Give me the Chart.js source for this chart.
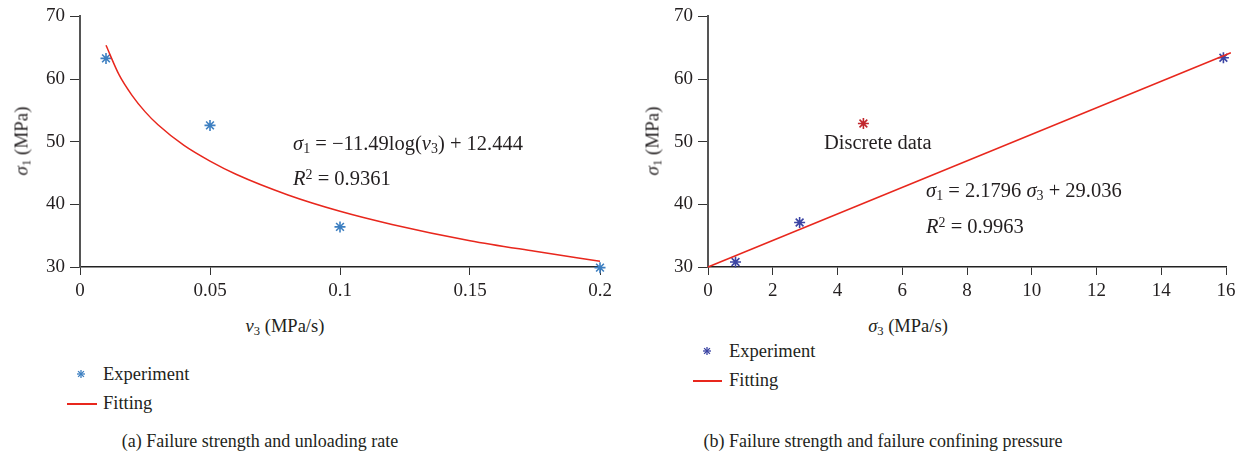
<!DOCTYPE html>
<html>
<head>
<meta charset="utf-8">
<script src="https://cdn.jsdelivr.net/npm/chart.js@4/dist/chart.umd.min.js"></script>
<style>
  body { margin: 0; background: #fff; }
  #wrap { position: relative; width: 1248px; height: 458px; font-family: 'Liberation Serif', 'DejaVu Serif', serif; color: #231f20; }
  #wrap canvas { position: absolute; top: 0; }
  .t { position: absolute; white-space: nowrap; font-size: 18px; line-height: 1; }
  .c { transform: translate(-50%, -50%); }
  .l { transform: translateY(-50%); }
  .rot { transform: translate(-50%, -50%) rotate(-90deg); font-size: 19px; }
  i { font-style: italic; }
  sub { font-size: 0.68em; vertical-align: -0.25em; line-height: 0; }
  sup { font-size: 0.68em; vertical-align: 0.4em; line-height: 0; }
  .cap { font-size: 18px; }
  .ann { font-size: 20.5px; }
  .leg { font-size: 18.5px; }
</style>
</head>
<body>
<div id="wrap">
  <div style="position:absolute;left:0;top:0;width:620px;height:300px"><canvas id="rateChart"></canvas></div>
  <div style="position:absolute;left:620px;top:0;width:628px;height:300px"><canvas id="pressureChart"></canvas></div>

  <!-- left panel text -->
  <div class="t rot" style="left:21px;top:141px"><i>σ</i><sub>1</sub> (MPa)</div>
  <div class="t c" style="left:285px;top:326px;font-size:18.5px"><i>ν</i><sub>3</sub> (MPa/s)</div>
  <div class="t l ann" style="left:293px;top:143px"><i>σ</i><sub>1</sub> = −11.49log(<i>ν</i><sub>3</sub>) + 12.444</div>
  <div class="t l ann" style="left:293px;top:178px"><i>R</i><sup>2</sup> = 0.9361</div>
  <svg style="position:absolute;left:76px;top:369px" width="10" height="10" viewBox="-5 -5 10 10">
    <g stroke="#3d7fc1" stroke-width="1.3"><line x1="-4" y1="0" x2="4" y2="0"/><line x1="0" y1="-4" x2="0" y2="4"/><line x1="-2.9" y1="-2.9" x2="2.9" y2="2.9"/><line x1="-2.9" y1="2.9" x2="2.9" y2="-2.9"/></g>
  </svg>
  <div class="t l leg" style="left:103px;top:374px">Experiment</div>
  <div style="position:absolute;left:67px;top:403px;width:30px;height:1.5px;background:#e8271d"></div>
  <div class="t l leg" style="left:103px;top:403px">Fitting</div>
  <div class="t c cap" style="left:260px;top:441px">(a) Failure strength and unloading rate</div>

  <!-- right panel text -->
  <div class="t rot" style="left:652px;top:141px"><i>σ</i><sub>1</sub> (MPa)</div>
  <div class="t c" style="left:908px;top:326px;font-size:18.5px"><i>σ</i><sub>3</sub> (MPa/s)</div>
  <div class="t l ann" style="left:824px;top:142px">Discrete data</div>
  <div class="t l ann" style="left:926px;top:190px"><i>σ</i><sub>1</sub> = 2.1796 <i>σ</i><sub>3</sub> + 29.036</div>
  <div class="t l ann" style="left:926px;top:226px"><i>R</i><sup>2</sup> = 0.9963</div>
  <svg style="position:absolute;left:702px;top:346px" width="10" height="10" viewBox="-5 -5 10 10">
    <g stroke="#3b44a3" stroke-width="1.3"><line x1="-4" y1="0" x2="4" y2="0"/><line x1="0" y1="-4" x2="0" y2="4"/><line x1="-2.9" y1="-2.9" x2="2.9" y2="2.9"/><line x1="-2.9" y1="2.9" x2="2.9" y2="-2.9"/></g>
  </svg>
  <div class="t l leg" style="left:729px;top:351px">Experiment</div>
  <div style="position:absolute;left:693px;top:380px;width:29px;height:1.5px;background:#e8271d"></div>
  <div class="t l leg" style="left:729px;top:380px">Fitting</div>
  <div class="t c cap" style="left:883px;top:441px">(b) Failure strength and failure confining pressure</div>
</div>

<script>
// (a) unloading rate vs failure strength
const rateValues = [0.01, 0.05, 0.1, 0.2];
const rateStrength = [63.3, 52.6, 36.4, 29.9];
const rateFitX = [0.01, 0.015, 0.02, 0.025, 0.03, 0.04, 0.05, 0.06, 0.08, 0.1, 0.12, 0.15, 0.175, 0.2];
const rateFitY = [65.4, 60.7, 57.4, 54.8, 52.7, 49.4, 46.9, 44.8, 41.5, 38.9, 36.8, 34.2, 32.5, 30.9];
const rateTicks = [0, 0.05, 0.1, 0.15, 0.2];

// (b) confining pressure vs failure strength
const pressureValues = [0.85, 2.83, 15.92];
const pressureStrength = [30.8, 37.1, 63.4];
const discreteX = [4.8];
const discreteY = [52.9];
const pressureFitX = [0, 16.15];
const pressureFitY = [30.0, 64.2];
const pressureTicks = [0, 2, 4, 6, 8, 10, 12, 14, 16];

const strengthTicks = [30, 40, 50, 60, 70];

const fitRed = '#e8271d';
const tickFont = { family: "'Liberation Serif', serif", size: 19 };

function pairs(xs, ys) {
    return xs.map((x, i) => ({ x: x, y: ys[i] }));
}

function makeScales(xTicks, xMax, yWidth) {
    return {
        x: {
            type: 'linear',
            min: 0,
            max: xMax,
            afterBuildTicks: scale => { scale.ticks = xTicks.map(v => ({ value: v })); },
            afterFit: scale => { scale.height = 33; },
            grid: { drawOnChartArea: false, tickLength: 8, color: '#333', lineWidth: 1 },
            border: { color: '#222', width: 1.5 },
            ticks: { color: '#231f20', font: tickFont, padding: 5, maxRotation: 0, callback: v => String(v) }
        },
        y: {
            type: 'linear',
            min: 30,
            max: 70,
            afterBuildTicks: scale => { scale.ticks = strengthTicks.map(v => ({ value: v })); },
            afterFit: scale => { scale.width = yWidth; },
            grid: { drawOnChartArea: false, tickLength: 10, color: '#333', lineWidth: 1 },
            border: { color: '#555', width: 2 },
            ticks: { color: '#231f20', font: tickFont, padding: 5 }
        }
    };
}

const commonOptions = {
    responsive: true,
    maintainAspectRatio: false,
    animation: false,
    plugins: { legend: { display: false }, tooltip: { enabled: false } }
};

// Left chart
const rateCtx = document.getElementById('rateChart').getContext('2d');
const rateChart = new Chart(rateCtx, {
    type: 'scatter',
    data: {
        datasets: [
            {
                label: 'Fitting',
                data: pairs(rateFitX, rateFitY),
                showLine: true,
                borderColor: fitRed,
                borderWidth: 1.5,
                pointRadius: 0,
                cubicInterpolationMode: 'monotone'
            },
            {
                label: 'Experiment',
                data: pairs(rateValues, rateStrength),
                pointStyle: 'star',
                pointRadius: 5.5,
                borderColor: '#3d7fc1',
                backgroundColor: '#3d7fc1',
                borderWidth: 1.6,
                clip: false
            }
        ]
    },
    options: Object.assign({}, commonOptions, {
        layout: { padding: { left: 0, top: 16, right: 20, bottom: 0 } },
        scales: makeScales(rateTicks, 0.2, 80)
    })
});

// Right chart
const pressureCtx = document.getElementById('pressureChart').getContext('2d');
const pressureChart = new Chart(pressureCtx, {
    type: 'scatter',
    data: {
        datasets: [
            {
                label: 'Fitting',
                data: pairs(pressureFitX, pressureFitY),
                showLine: true,
                borderColor: fitRed,
                borderWidth: 1.5,
                pointRadius: 0,
                clip: false
            },
            {
                label: 'Experiment',
                data: pairs(pressureValues, pressureStrength),
                pointStyle: 'star',
                pointRadius: 5.5,
                borderColor: '#3b44a3',
                backgroundColor: '#3b44a3',
                borderWidth: 1.6,
                clip: false
            },
            {
                label: 'Discrete data',
                data: pairs(discreteX, discreteY),
                pointStyle: 'star',
                pointRadius: 5.5,
                borderColor: '#c1272d',
                backgroundColor: '#c1272d',
                borderWidth: 1.6,
                clip: false
            }
        ]
    },
    options: Object.assign({}, commonOptions, {
        layout: { padding: { left: 0, top: 16, right: 22, bottom: 0 } },
        scales: makeScales(pressureTicks, 16, 88)
    })
});
</script>
</body>
</html>
